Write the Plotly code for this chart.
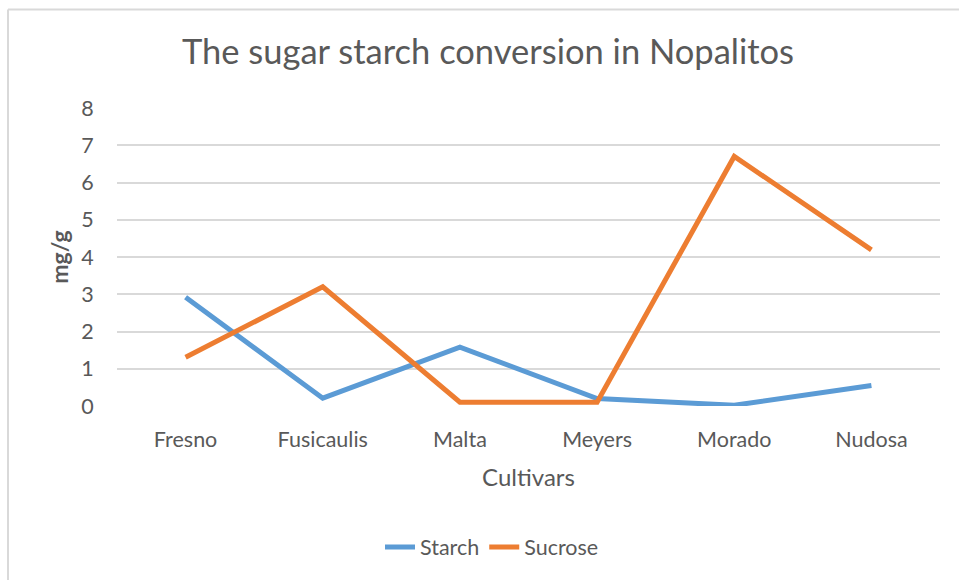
import plotly.graph_objects as go

cultivars = ["Fresno", "Fusicaulis", "Malta", "Meyers", "Morado", "Nudosa"]
starch = [2.92, 0.21, 1.58, 0.2, 0.02, 0.55]
sucrose = [1.31, 3.2, 0.1, 0.1, 6.7, 4.19]
y_ticks = [0, 1, 2, 3, 4, 5, 6, 7, 8]

FONT = "Lato"
GREY = "#595959"

fig = go.Figure()
fig.add_trace(go.Scatter(x=cultivars, y=starch, name="Starch", mode="lines",
                         line=dict(color="#5B9BD5", width=5), cliponaxis=False))
fig.add_trace(go.Scatter(x=cultivars, y=sucrose, name="Sucrose", mode="lines",
                         line=dict(color="#ED7D31", width=5), cliponaxis=False))

fig.update_layout(
    width=959, height=580,
    margin=dict(l=117, r=19, t=108, b=174),
    paper_bgcolor="white", plot_bgcolor="white",
    font=dict(family=FONT, color=GREY),
    title=dict(text="The sugar starch conversion in Nopalitos", x=488/959, xanchor="center",
               y=1-52/580, yanchor="middle", font=dict(size=34.5, color=GREY, family=FONT)),
    xaxis=dict(type="category", range=[-0.5, 5.5], showgrid=False, zeroline=False,
               showline=False, ticks="outside", ticklen=14, tickcolor="rgba(0,0,0,0)",
               tickfont=dict(size=21.5, color=GREY),
               title=dict(text="Cultivars", font=dict(size=24, color=GREY), standoff=18)),
    yaxis=dict(range=[0, 8], tickvals=y_ticks, showgrid=True, gridcolor="#d9d9d9", gridwidth=1.5,
               zeroline=False, showline=False, ticks="outside", ticklen=18,
               tickcolor="rgba(0,0,0,0)", tickfont=dict(size=21.5, color=GREY),
               title=dict(text="<b>mg/g</b>", font=dict(size=23, color=GREY), standoff=6)),
    legend=dict(orientation="h", x=492/959, xanchor="center", y=1-547/580, yanchor="middle",
                xref="container", yref="container", font=dict(size=21.5, color=GREY),
                itemwidth=30, traceorder="normal"),
    shapes=[
        dict(type="line", xref="paper", yref="paper", x0=(8-117)/823, x1=1.2,
             y0=(406-9.5)/298, y1=(406-9.5)/298, line=dict(color="#d9d9d9", width=2)),
        dict(type="line", xref="paper", yref="paper", x0=(8-117)/823, x1=(8-117)/823,
             y0=(406-9.5)/298, y1=-1, line=dict(color="#d9d9d9", width=2)),
    ],
)

fig.write_html("out.html")
